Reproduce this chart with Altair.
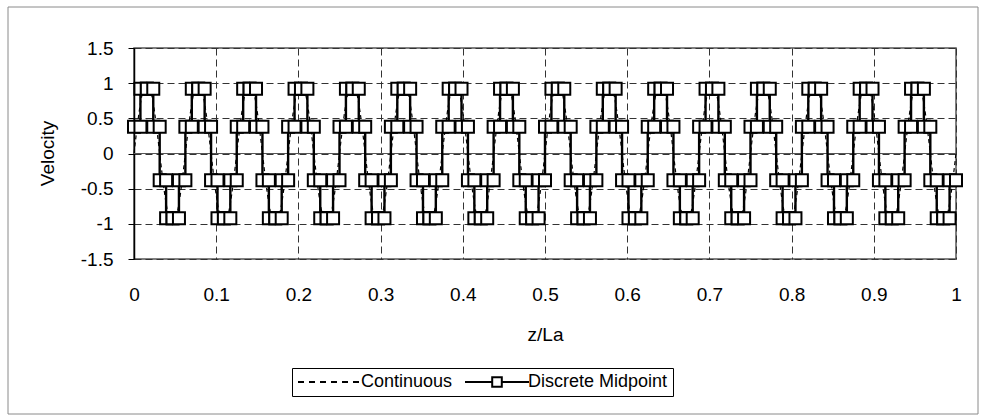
import altair as alt
import pandas as pd

FONT = "Liberation Sans"

# Series names
series_names = ["Continuous", "Discrete Midpoint"]

# 16 periods along z/La, each split into 8 equal segments
n_periods = 16
seg_per_period = 8

# Discrete midpoint level of each segment within one period
period_levels = [0.38, 0.92, 0.92, 0.38, -0.38, -0.92, -0.92, -0.38]

# Continuous profile at the segment boundaries within one period
boundary_levels = [0.0, 0.71, 1.0, 0.71, 0.0, -0.71, -1.0, -0.71]

# Axis ticks
x_ticks = [0, 0.1, 0.2, 0.3, 0.4, 0.5, 0.6, 0.7, 0.8, 0.9, 1]
y_ticks = [-1.5, -1, -0.5, 0, 0.5, 1, 1.5]

# ---- tables -------------------------------------------------------------
n_seg = n_periods * seg_per_period
bounds = [k / n_seg for k in range(n_seg + 1)]

cont_df = pd.DataFrame({
    "z": bounds,
    "v": boundary_levels * n_periods + [0.0],
})

seg_levels = period_levels * n_periods
rows = []
for k, lev in enumerate(seg_levels):
    rows.append({"z": bounds[k], "v": lev, "order": 2 * k})
    rows.append({"z": bounds[k + 1], "v": lev, "order": 2 * k + 1})
disc_df = pd.DataFrame(rows)

zero_df = pd.DataFrame({"v": [0.0]})
legend_df = pd.DataFrame({"series": series_names})

# ---- encodings ----------------------------------------------------------
x_enc = alt.X(
    "z:Q",
    scale=alt.Scale(domain=[0, 1], nice=False, zero=False),
    axis=alt.Axis(
        values=x_ticks,
        labelExpr="'' + datum.value",
        grid=True,
        gridColor="#333333",
        gridDash=[7, 4],
        gridWidth=1,
        ticks=False,
        domain=False,
        labelFont=FONT,
        labelFontSize=19,
        labelColor="black",
        labelPadding=26,
        labelBaseline="top",
        labelFlush=False,
        title="z/La",
        titleFont=FONT,
        titleFontSize=19,
        titleFontWeight="normal",
        titleColor="black",
        titleX=411,
        titleY=75,
        titleAlign="center",
        titleBaseline="middle",
    ),
)

y_enc = alt.Y(
    "v:Q",
    scale=alt.Scale(domain=[-1.5, 1.5], nice=False, zero=False),
    axis=alt.Axis(
        values=y_ticks,
        labelExpr="'' + datum.value",
        grid=True,
        gridColor="#333333",
        gridDash=[7, 4],
        gridWidth=1,
        ticks=True,
        tickSize=6,
        tickColor="black",
        tickWidth=1,
        domain=True,
        domainColor="black",
        domainWidth=1.5,
        labelFont=FONT,
        labelFontSize=19,
        labelColor="black",
        labelPadding=15,
        labelFlush=False,
        title="Velocity",
        titleFont=FONT,
        titleFontSize=19,
        titleFontWeight="normal",
        titleColor="black",
        titleAngle=270,
        titleX=-87,
        titleY=105,
        titleAlign="center",
        titleBaseline="middle",
    ),
)

# ---- layers -------------------------------------------------------------
continuous = alt.Chart(cont_df).mark_line(
    color="black", strokeWidth=1.2, strokeDash=[4, 3], interpolate="natural"
).encode(x=x_enc, y=y_enc)

zero_line = alt.Chart(zero_df).mark_rule(color="#555555", strokeWidth=1.2).encode(
    y=y_enc
)

disc_line = alt.Chart(disc_df).mark_line(color="black", strokeWidth=2.4).encode(
    x=x_enc, y=y_enc, order="order:Q"
)

disc_points = alt.Chart(disc_df).mark_point(
    shape="square", size=144, filled=True, fill="white", stroke="black",
    strokeWidth=2, opacity=1,
).encode(x=x_enc, y=y_enc)

# Legend glyphs: symbol size 256 gives an 8 px unit; the paths run from
# -1 to 7 units so they reach past the nominal symbol slot, and the labels
# are pushed right with labelOffset to make room.
dash_path = " ".join(
    f"M{a:.3f},0H{a + 0.75:.3f}" for a in [-1.0, 0.375, 1.75, 3.125, 4.5, 5.875]
)
square_path = (
    "M-1,0H2.4M3.6,0H7"
    "M2.4,-0.6H3.6V0.6H2.4Z"
)

legend_layer = alt.Chart(legend_df).mark_point(
    color="black", filled=False, opacity=0
).encode(
    shape=alt.Shape(
        "series:N",
        scale=alt.Scale(domain=series_names, range=[dash_path, square_path]),
        legend=alt.Legend(
            title=None,
            orient="none",
            legendX=158,
            legendY=320,
            direction="horizontal",
            strokeColor="black",
            padding=5,
            columnPadding=8,
            labelOffset=46,
            labelFont=FONT,
            labelFontSize=18,
            labelColor="black",
            symbolSize=256,
            symbolStrokeWidth=2,
            symbolStrokeColor="black",
            symbolOpacity=1,
        ),
    )
)

frame_df = pd.DataFrame({"k": [0]})
frame = alt.Chart(frame_df).mark_rect(
    fillOpacity=0, stroke="#8a8a8a", strokeWidth=1
).encode(
    x=alt.value(-126), x2=alt.value(844), y=alt.value(-41), y2=alt.value(366)
)

chart = alt.layer(
    continuous, zero_line, disc_line, disc_points, legend_layer, frame
).properties(
    width=822,
    height=211,
    autosize=alt.AutoSizeParams(type="none"),
    padding={"left": 134, "top": 48, "right": 27, "bottom": 160},
    background="white",
).configure_view(
    stroke="#555555", strokeWidth=1.5
)

chart.save("out.html", embed_options={"renderer": "svg", "actions": False})
